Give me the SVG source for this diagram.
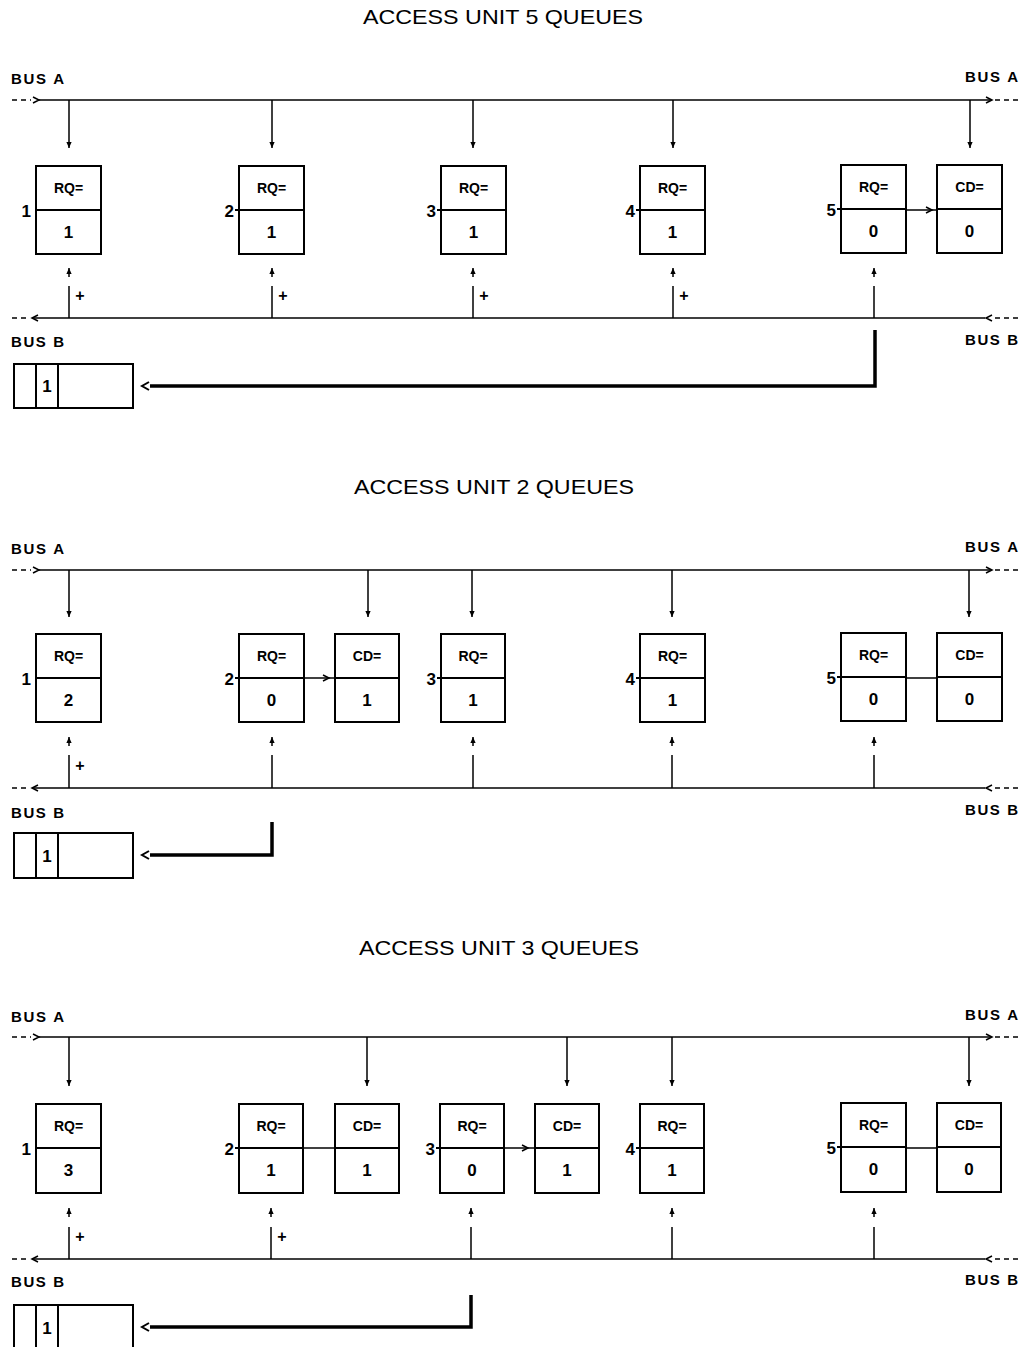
<svg xmlns="http://www.w3.org/2000/svg" width="1022" height="1347" viewBox="0 0 1022 1347">
<style>
.bg{fill:#fff}
.box{fill:none;stroke:#000;stroke-width:2}
.ln{fill:none;stroke:#000;stroke-width:1.5}
.dash{fill:none;stroke:#000;stroke-width:1.5;stroke-dasharray:5 4}
.thick{fill:none;stroke:#000;stroke-width:3.5}
.title{font-family:"Liberation Sans",Arial,sans-serif;font-size:21px;text-anchor:middle}
.bus{font-family:"Liberation Sans",Arial,sans-serif;font-size:15px;font-weight:bold}
.k{font-family:"Liberation Sans",Arial,sans-serif;font-size:14px;font-weight:bold;text-anchor:middle}
.v{font-family:"Liberation Sans",Arial,sans-serif;font-size:17px;font-weight:bold;text-anchor:middle}
.num{font-family:"Liberation Sans",Arial,sans-serif;font-size:17px;font-weight:bold;text-anchor:end}
.plus{font-family:"Liberation Sans",Arial,sans-serif;font-size:16px;font-weight:bold;text-anchor:middle}
</style>
<defs>
<marker id="ah" viewBox="0 0 8 8" refX="8" refY="4" markerWidth="7" markerHeight="6" markerUnits="userSpaceOnUse" orient="auto"><path d="M0,0.5 L8,4 L0,7.5 z" fill="#000"/></marker>
</defs>
<rect class="bg" x="0" y="0" width="1022" height="1347"/>

<!-- titles and labels -->
<g id="labels">
<text class="title" x="503" y="24" textLength="280" lengthAdjust="spacingAndGlyphs">ACCESS UNIT 5 QUEUES</text>
<text class="title" x="494" y="494" textLength="280" lengthAdjust="spacingAndGlyphs">ACCESS UNIT 2 QUEUES</text>
<text class="title" x="499" y="955" textLength="280" lengthAdjust="spacingAndGlyphs">ACCESS UNIT 3 QUEUES</text>

<text class="bus" x="11" y="84" textLength="53" lengthAdjust="spacing">BUS A</text>
<text class="bus" x="965" y="82" textLength="53" lengthAdjust="spacing">BUS A</text>
<text class="bus" x="11" y="347" textLength="53" lengthAdjust="spacing">BUS B</text>
<text class="bus" x="965" y="345" textLength="53" lengthAdjust="spacing">BUS B</text>

<text class="bus" x="11" y="554" textLength="53" lengthAdjust="spacing">BUS A</text>
<text class="bus" x="965" y="552" textLength="53" lengthAdjust="spacing">BUS A</text>
<text class="bus" x="11" y="818" textLength="53" lengthAdjust="spacing">BUS B</text>
<text class="bus" x="965" y="815" textLength="53" lengthAdjust="spacing">BUS B</text>

<text class="bus" x="11" y="1022" textLength="53" lengthAdjust="spacing">BUS A</text>
<text class="bus" x="965" y="1020" textLength="53" lengthAdjust="spacing">BUS A</text>
<text class="bus" x="11" y="1287" textLength="53" lengthAdjust="spacing">BUS B</text>
<text class="bus" x="965" y="1285" textLength="53" lengthAdjust="spacing">BUS B</text>

<text class="plus" x="80" y="301">+</text>
<text class="plus" x="283" y="301">+</text>
<text class="plus" x="484" y="301">+</text>
<text class="plus" x="684" y="301">+</text>
<text class="plus" x="80" y="771">+</text>
<text class="plus" x="80" y="1242">+</text>
<text class="plus" x="282" y="1242">+</text>
</g>

<!-- connectors -->
<g id="connectors">
<!-- Panel 1 buses -->
<line class="dash" x1="12" y1="100" x2="31" y2="100"/>
<polyline class="ln" points="33,97 39,100 33,103"/>
<line class="ln" x1="39" y1="100" x2="991" y2="100"/>
<polyline class="ln" points="986,97 992,100 986,103"/>
<line class="dash" x1="995" y1="100" x2="1018" y2="100"/>
<line class="dash" x1="12" y1="318" x2="30" y2="318"/>
<polyline class="ln" points="38,315 32,318 38,321"/>
<line class="ln" x1="33" y1="318" x2="985" y2="318"/>
<polyline class="ln" points="992,315 986,318 992,321"/>
<line class="dash" x1="995" y1="318" x2="1018" y2="318"/>
<!-- Panel 1 drops -->
<line class="ln" x1="69" y1="100" x2="69" y2="148" marker-end="url(#ah)"/>
<line class="ln" x1="272" y1="100" x2="272" y2="148" marker-end="url(#ah)"/>
<line class="ln" x1="473" y1="100" x2="473" y2="148" marker-end="url(#ah)"/>
<line class="ln" x1="673" y1="100" x2="673" y2="148" marker-end="url(#ah)"/>
<line class="ln" x1="970" y1="100" x2="970" y2="148" marker-end="url(#ah)"/>
<!-- Panel 1 ups -->
<line class="ln" x1="69" y1="277" x2="69" y2="268" marker-end="url(#ah)"/>
<line class="ln" x1="69" y1="286" x2="69" y2="318"/>
<line class="ln" x1="272" y1="277" x2="272" y2="268" marker-end="url(#ah)"/>
<line class="ln" x1="272" y1="286" x2="272" y2="318"/>
<line class="ln" x1="473" y1="277" x2="473" y2="268" marker-end="url(#ah)"/>
<line class="ln" x1="473" y1="286" x2="473" y2="318"/>
<line class="ln" x1="673" y1="277" x2="673" y2="268" marker-end="url(#ah)"/>
<line class="ln" x1="673" y1="286" x2="673" y2="318"/>
<line class="ln" x1="874" y1="277" x2="874" y2="268" marker-end="url(#ah)"/>
<line class="ln" x1="874" y1="286" x2="874" y2="318"/>
<!-- Panel 1 RQ5 -> CD5 -->
<line class="ln" x1="906" y1="210" x2="937" y2="210"/>
<polyline class="ln" points="926,207 932,210 926,213"/>
<!-- Panel 1 thick -->
<path class="thick" d="M875,330 V386 H150"/>
<polyline class="ln" points="149,382 142,386 149,390" style="stroke-width:2"/>

<!-- Panel 2 buses -->
<line class="dash" x1="12" y1="570" x2="31" y2="570"/>
<polyline class="ln" points="33,567 39,570 33,573"/>
<line class="ln" x1="39" y1="570" x2="991" y2="570"/>
<polyline class="ln" points="986,567 992,570 986,573"/>
<line class="dash" x1="995" y1="570" x2="1018" y2="570"/>
<line class="dash" x1="12" y1="788" x2="30" y2="788"/>
<polyline class="ln" points="38,785 32,788 38,791"/>
<line class="ln" x1="33" y1="788" x2="985" y2="788"/>
<polyline class="ln" points="992,785 986,788 992,791"/>
<line class="dash" x1="995" y1="788" x2="1018" y2="788"/>
<!-- Panel 2 drops -->
<line class="ln" x1="69" y1="570" x2="69" y2="617" marker-end="url(#ah)"/>
<line class="ln" x1="368" y1="570" x2="368" y2="617" marker-end="url(#ah)"/>
<line class="ln" x1="472" y1="570" x2="472" y2="617" marker-end="url(#ah)"/>
<line class="ln" x1="672" y1="570" x2="672" y2="617" marker-end="url(#ah)"/>
<line class="ln" x1="969" y1="570" x2="969" y2="617" marker-end="url(#ah)"/>
<!-- Panel 2 ups -->
<line class="ln" x1="69" y1="746" x2="69" y2="737" marker-end="url(#ah)"/>
<line class="ln" x1="69" y1="755" x2="69" y2="788"/>
<line class="ln" x1="272" y1="746" x2="272" y2="737" marker-end="url(#ah)"/>
<line class="ln" x1="272" y1="755" x2="272" y2="788"/>
<line class="ln" x1="473" y1="746" x2="473" y2="737" marker-end="url(#ah)"/>
<line class="ln" x1="473" y1="755" x2="473" y2="788"/>
<line class="ln" x1="672" y1="746" x2="672" y2="737" marker-end="url(#ah)"/>
<line class="ln" x1="672" y1="755" x2="672" y2="788"/>
<line class="ln" x1="874" y1="746" x2="874" y2="737" marker-end="url(#ah)"/>
<line class="ln" x1="874" y1="755" x2="874" y2="788"/>
<!-- Panel 2 links -->
<line class="ln" x1="304" y1="678" x2="335" y2="678"/>
<polyline class="ln" points="323,675 329,678 323,681"/>
<line class="ln" x1="906" y1="678" x2="937" y2="678"/>
<!-- Panel 2 thick -->
<path class="thick" d="M272,822 V855 H150"/>
<polyline class="ln" points="149,851 142,855 149,859" style="stroke-width:2"/>

<!-- Panel 3 buses -->
<line class="dash" x1="12" y1="1037" x2="31" y2="1037"/>
<polyline class="ln" points="33,1034 39,1037 33,1040"/>
<line class="ln" x1="39" y1="1037" x2="991" y2="1037"/>
<polyline class="ln" points="986,1034 992,1037 986,1040"/>
<line class="dash" x1="995" y1="1037" x2="1018" y2="1037"/>
<line class="dash" x1="12" y1="1259" x2="30" y2="1259"/>
<polyline class="ln" points="38,1256 32,1259 38,1262"/>
<line class="ln" x1="33" y1="1259" x2="985" y2="1259"/>
<polyline class="ln" points="992,1256 986,1259 992,1262"/>
<line class="dash" x1="995" y1="1259" x2="1018" y2="1259"/>
<!-- Panel 3 drops -->
<line class="ln" x1="69" y1="1037" x2="69" y2="1086" marker-end="url(#ah)"/>
<line class="ln" x1="367" y1="1037" x2="367" y2="1086" marker-end="url(#ah)"/>
<line class="ln" x1="567" y1="1037" x2="567" y2="1086" marker-end="url(#ah)"/>
<line class="ln" x1="672" y1="1037" x2="672" y2="1086" marker-end="url(#ah)"/>
<line class="ln" x1="969" y1="1037" x2="969" y2="1086" marker-end="url(#ah)"/>
<!-- Panel 3 ups -->
<line class="ln" x1="69" y1="1217" x2="69" y2="1208" marker-end="url(#ah)"/>
<line class="ln" x1="69" y1="1227" x2="69" y2="1259"/>
<line class="ln" x1="271" y1="1217" x2="271" y2="1208" marker-end="url(#ah)"/>
<line class="ln" x1="271" y1="1227" x2="271" y2="1259"/>
<line class="ln" x1="471" y1="1217" x2="471" y2="1208" marker-end="url(#ah)"/>
<line class="ln" x1="471" y1="1227" x2="471" y2="1259"/>
<line class="ln" x1="672" y1="1217" x2="672" y2="1208" marker-end="url(#ah)"/>
<line class="ln" x1="672" y1="1227" x2="672" y2="1259"/>
<line class="ln" x1="874" y1="1217" x2="874" y2="1208" marker-end="url(#ah)"/>
<line class="ln" x1="874" y1="1227" x2="874" y2="1259"/>
<!-- Panel 3 links -->
<line class="ln" x1="304" y1="1148" x2="335" y2="1148"/>
<line class="ln" x1="504" y1="1148" x2="535" y2="1148"/>
<polyline class="ln" points="522,1145 528,1148 522,1151"/>
<line class="ln" x1="906" y1="1148" x2="937" y2="1148"/>
<!-- Panel 3 thick -->
<path class="thick" d="M471,1295 V1327 H150"/>
<polyline class="ln" points="149,1323 142,1327 149,1331" style="stroke-width:2"/>
</g>

<!-- Panel 1 nodes -->
<g id="p1-n1" transform="translate(36,166)"><rect class="box" width="65" height="88"/><line class="box" x1="0" y1="44" x2="65" y2="44"/><text class="k" x="32.5" y="27">RQ=</text><text class="v" x="32.5" y="72">1</text><text class="num" x="-5" y="51">1</text></g>
<g id="p1-n2" transform="translate(239,166)"><rect class="box" width="65" height="88"/><line class="box" x1="-4" y1="44" x2="65" y2="44"/><text class="k" x="32.5" y="27">RQ=</text><text class="v" x="32.5" y="72">1</text><text class="num" x="-5" y="51">2</text></g>
<g id="p1-n3" transform="translate(441,166)"><rect class="box" width="65" height="88"/><line class="box" x1="-4" y1="44" x2="65" y2="44"/><text class="k" x="32.5" y="27">RQ=</text><text class="v" x="32.5" y="72">1</text><text class="num" x="-5" y="51">3</text></g>
<g id="p1-n4" transform="translate(640,166)"><rect class="box" width="65" height="88"/><line class="box" x1="-4" y1="44" x2="65" y2="44"/><text class="k" x="32.5" y="27">RQ=</text><text class="v" x="32.5" y="72">1</text><text class="num" x="-5" y="51">4</text></g>
<g id="p1-n5" transform="translate(841,165)"><rect class="box" width="65" height="88"/><line class="box" x1="-4" y1="44" x2="65" y2="44"/><text class="k" x="32.5" y="27">RQ=</text><text class="v" x="32.5" y="72">0</text><text class="num" x="-5" y="51">5</text></g>
<g id="p1-cd5" transform="translate(937,165)"><rect class="box" width="65" height="88"/><line class="box" x1="0" y1="44" x2="65" y2="44"/><text class="k" x="32.5" y="27">CD=</text><text class="v" x="32.5" y="72">0</text></g>
<g id="p1-queue" transform="translate(14,364)"><rect class="box" width="119" height="44"/><line class="box" x1="22" y1="0" x2="22" y2="44"/><line class="box" x1="44" y1="0" x2="44" y2="44"/><text class="v" x="33" y="28">1</text></g>

<!-- Panel 2 nodes -->
<g id="p2-n1" transform="translate(36,634)"><rect class="box" width="65" height="88"/><line class="box" x1="0" y1="44" x2="65" y2="44"/><text class="k" x="32.5" y="27">RQ=</text><text class="v" x="32.5" y="72">2</text><text class="num" x="-5" y="51">1</text></g>
<g id="p2-n2" transform="translate(239,634)"><rect class="box" width="65" height="88"/><line class="box" x1="-4" y1="44" x2="65" y2="44"/><text class="k" x="32.5" y="27">RQ=</text><text class="v" x="32.5" y="72">0</text><text class="num" x="-5" y="51">2</text></g>
<g id="p2-cd2" transform="translate(335,634)"><rect class="box" width="64" height="88"/><line class="box" x1="0" y1="44" x2="64" y2="44"/><text class="k" x="32" y="27">CD=</text><text class="v" x="32" y="72">1</text></g>
<g id="p2-n3" transform="translate(441,634)"><rect class="box" width="64" height="88"/><line class="box" x1="-4" y1="44" x2="64" y2="44"/><text class="k" x="32" y="27">RQ=</text><text class="v" x="32" y="72">1</text><text class="num" x="-5" y="51">3</text></g>
<g id="p2-n4" transform="translate(640,634)"><rect class="box" width="65" height="88"/><line class="box" x1="-4" y1="44" x2="65" y2="44"/><text class="k" x="32.5" y="27">RQ=</text><text class="v" x="32.5" y="72">1</text><text class="num" x="-5" y="51">4</text></g>
<g id="p2-n5" transform="translate(841,633)"><rect class="box" width="65" height="88"/><line class="box" x1="-4" y1="44" x2="65" y2="44"/><text class="k" x="32.5" y="27">RQ=</text><text class="v" x="32.5" y="72">0</text><text class="num" x="-5" y="51">5</text></g>
<g id="p2-cd5" transform="translate(937,633)"><rect class="box" width="65" height="88"/><line class="box" x1="0" y1="44" x2="65" y2="44"/><text class="k" x="32.5" y="27">CD=</text><text class="v" x="32.5" y="72">0</text></g>
<g id="p2-queue" transform="translate(14,833)"><rect class="box" width="119" height="45"/><line class="box" x1="22" y1="0" x2="22" y2="45"/><line class="box" x1="44" y1="0" x2="44" y2="45"/><text class="v" x="33" y="29">1</text></g>

<!-- Panel 3 nodes -->
<g id="p3-n1" transform="translate(36,1104)"><rect class="box" width="65" height="89"/><line class="box" x1="0" y1="44" x2="65" y2="44"/><text class="k" x="32.5" y="27">RQ=</text><text class="v" x="32.5" y="72">3</text><text class="num" x="-5" y="51">1</text></g>
<g id="p3-n2" transform="translate(239,1104)"><rect class="box" width="64" height="89"/><line class="box" x1="-4" y1="44" x2="64" y2="44"/><text class="k" x="32" y="27">RQ=</text><text class="v" x="32" y="72">1</text><text class="num" x="-5" y="51">2</text></g>
<g id="p3-cd2" transform="translate(335,1104)"><rect class="box" width="64" height="89"/><line class="box" x1="0" y1="44" x2="64" y2="44"/><text class="k" x="32" y="27">CD=</text><text class="v" x="32" y="72">1</text></g>
<g id="p3-n3" transform="translate(440,1104)"><rect class="box" width="64" height="89"/><line class="box" x1="-4" y1="44" x2="64" y2="44"/><text class="k" x="32" y="27">RQ=</text><text class="v" x="32" y="72">0</text><text class="num" x="-5" y="51">3</text></g>
<g id="p3-cd3" transform="translate(535,1104)"><rect class="box" width="64" height="89"/><line class="box" x1="0" y1="44" x2="64" y2="44"/><text class="k" x="32" y="27">CD=</text><text class="v" x="32" y="72">1</text></g>
<g id="p3-n4" transform="translate(640,1104)"><rect class="box" width="64" height="89"/><line class="box" x1="-4" y1="44" x2="64" y2="44"/><text class="k" x="32" y="27">RQ=</text><text class="v" x="32" y="72">1</text><text class="num" x="-5" y="51">4</text></g>
<g id="p3-n5" transform="translate(841,1103)"><rect class="box" width="65" height="89"/><line class="box" x1="-4" y1="44" x2="65" y2="44"/><text class="k" x="32.5" y="27">RQ=</text><text class="v" x="32.5" y="72">0</text><text class="num" x="-5" y="51">5</text></g>
<g id="p3-cd5" transform="translate(937,1103)"><rect class="box" width="64" height="89"/><line class="box" x1="0" y1="44" x2="64" y2="44"/><text class="k" x="32" y="27">CD=</text><text class="v" x="32" y="72">0</text></g>
<g id="p3-queue" transform="translate(14,1305)"><rect class="box" width="119" height="50"/><line class="box" x1="22" y1="0" x2="22" y2="50"/><line class="box" x1="44" y1="0" x2="44" y2="50"/><text class="v" x="33" y="29">1</text></g>
</svg>
